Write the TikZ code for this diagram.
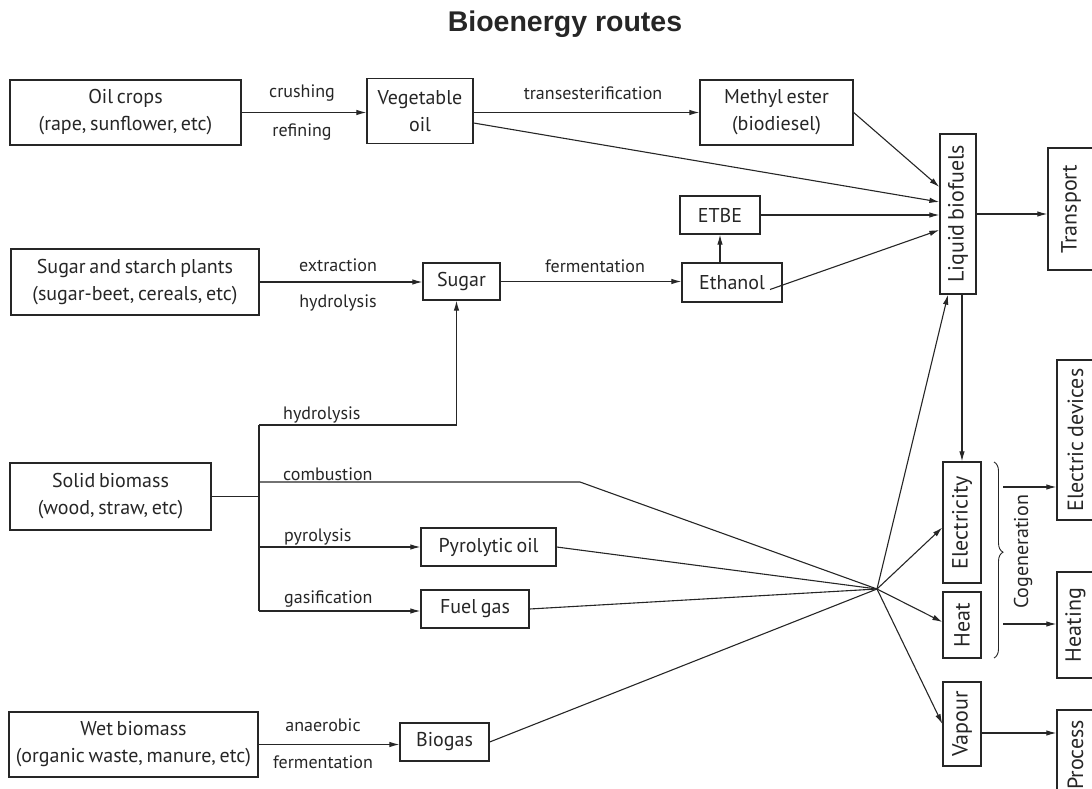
\documentclass[tikz,border=0pt]{standalone}
\usepackage{fontspec}
\usepackage{graphicx}
\setmainfont{PT Sans}[WordSpace=0.7]
\newfontfamily\titlefont{Liberation Sans}
\usetikzlibrary{arrows.meta,calc,decorations.pathreplacing}
\definecolor{ink}{HTML}{262626}
\newcommand{\vtext}[1]{\rotatebox{90}{\fontsize{22}{24}\selectfont #1}}
\begin{document}
\begin{tikzpicture}[x=1pt,y=-1pt,
  box/.style={draw=ink,line width=1.3pt,inner sep=0pt,align=center,text=ink,
    font=\fontsize{20}{27}\selectfont},
  lbl/.style={text=ink,inner sep=0pt,font=\fontsize{18}{20}\selectfont},
  wire/.style={draw=ink,line width=1.1pt},
  arr/.style={wire,-{Latex[length=10pt,width=5.5pt]}}]
\useasboundingbox (0,0) rectangle (1092,789);
\clip (0,0) rectangle (1092,789);

% title
\node[text=ink,font=\titlefont\bfseries\fontsize{28.5}{30}\selectfont] (title) at (565,24) {Bioenergy routes};

% source boxes
\node[box,minimum width=231pt,minimum height=65pt] (oil) at (125.5,112.5) {Oil crops\\(rape, sunflower, etc)};
\node[box,minimum width=248pt,minimum height=66pt] (ss) at (135,282) {Sugar and starch plants\\(sugar-beet, cereals, etc)};
\node[box,minimum width=201pt,minimum height=67pt] (sb) at (110.5,496.5) {Solid biomass\\(wood, straw, etc)};
\node[box,minimum width=249pt,minimum height=65pt] (wet) at (133.5,744.5) {Wet biomass\\(organic waste, manure, etc)};

% intermediate products
\node[box,minimum width=106pt,minimum height=65pt] (veg) at (420,111) {Vegetable\\oil};
\node[box,minimum width=153pt,minimum height=65pt] (me) at (776.5,112.5) {Methyl ester\\(biodiesel)};
\node[box,minimum width=80pt,minimum height=38pt] (etbe) at (720,215) {ETBE};
\node[box,minimum width=100pt,minimum height=39pt] (eth) at (732,282.5) {Ethanol};
\node[box,minimum width=77pt,minimum height=37pt] (sugar) at (461.5,281.5) {Sugar};
\node[box,minimum width=135pt,minimum height=38pt] (pyro) at (488.5,547) {Pyrolytic oil};
\node[box,minimum width=108pt,minimum height=38pt] (fuel) at (475,609) {Fuel gas};
\node[box,minimum width=89pt,minimum height=38pt] (biogas) at (444.5,742) {Biogas};

% energy carriers
\node[box,minimum width=36pt,minimum height=160pt] (lb) at (958,214) {\vtext{Liquid biofuels}};
\node[box,minimum width=38pt,minimum height=121pt] (el) at (962,522.5) {\vtext{Electricity}};
\node[box,minimum width=38pt,minimum height=66pt] (heat) at (962,625) {\vtext{Heat}};
\node[box,minimum width=38pt,minimum height=84pt] (vap) at (962,724) {\vtext{Vapour}};

% end uses
\node[box,minimum width=46pt,minimum height=122pt] (tr) at (1071,209) {\vtext{Transport}};
\node[box,minimum width=37pt,minimum height=160pt] (ed) at (1075.5,440) {\vtext{Electric devices}};
\node[box,minimum width=37pt,minimum height=106pt] (hting) at (1075.5,625) {\vtext{Heating}};
\node[box,minimum width=37pt,minimum height=90pt] (proc) at (1075.5,755) {\vtext{Process}};

% junctions
\coordinate (conv) at (877,589);
\coordinate (jtop) at (259,425);
\coordinate (jcomb) at (259,482);
\coordinate (jbot) at (259,611);
\coordinate (bend) at (580,482);
\coordinate (bEl) at (1003,487);
\coordinate (bHt) at (1003,624);
\coordinate (vOut) at (981,733);

% oil route
\draw[arr] (oil.east) -- (oil.east -| veg.west);
\node[lbl] (l1) at (302,93) {crushing};
\node[lbl] (l2) at (302,132) {refining};
\draw[arr] (veg.east |- oil.east) -- (oil.east -| me.west);
\node[lbl] (l3) at (593,93) {transesterification};
\draw[arr] ($(veg.east)+(0,12)$) -- ($(lb.west)+(0,-12)$);
\draw[arr] (me.east) -- ($(lb.west)+(0,-27)$);

% sugar route
\draw[arr] (ss.east) -- (ss.east -| sugar.west);
\node[lbl] (l4) at (338,265) {extraction};
\node[lbl] (l5) at (338,303) {hydrolysis};
\draw[arr] (sugar.east) -- (sugar.east -| eth.west);
\node[lbl] (l6) at (595,266) {fermentation};
\draw[arr] (etbe.south |- eth.north) -- (etbe.south);
\draw[arr] (etbe.east) -- (etbe.east -| lb.west);
\draw[arr] ($(eth.center)+(38,7)$) -- ($(lb.west)+(0,16)$);

% solid biomass routes
\draw[wire] (sb.east) -- (sb.east -| jtop);
\draw[wire] (jtop) -- (jbot);
\draw[arr] (jtop) -| ($(sugar.south)+(-5,0)$);
\node[lbl,anchor=west] (l7) at (283,415) {hydrolysis};
\draw[wire] (jcomb) -- (bend) -- (conv);
\node[lbl,anchor=west] (l8) at (283,474) {combustion};
\draw[arr] (jtop |- pyro.west) -- (pyro.west);
\node[lbl,anchor=west] (l9) at (284,537) {pyrolysis};
\draw[arr] (jbot) -- (jbot -| fuel.west);
\node[lbl,anchor=west] (l10) at (284,599) {gasification};
\draw[wire] (pyro.east) -- (conv);
\draw[wire] (fuel.east) -- (conv);

% wet biomass route
\draw[arr] (wet.east) -- (wet.east -| biogas.west);
\node[lbl] (l11) at (323,725) {anaerobic};
\node[lbl] (l12) at (323,762) {fermentation};
\draw[wire] (biogas.east) -- (conv);

% conversion fan
\draw[arr] (conv) -- ($(lb.south)+(-10,0)$);
\draw[arr] (conv) -- ($(el.west)+(0,5)$);
\draw[arr] (conv) -- ($(heat.west)+(0,-3)$);
\draw[arr] (conv) -- (vap.west);

% end uses
\draw[arr] (lb.east) -- (lb.east -| tr.west);
\draw[arr] (el.north |- lb.south) -- (el.north);
\draw[wire,line width=0.9pt,decorate,decoration={brace,amplitude=9pt,aspect=0.46}] (994,462) -- (994,658);
\node[lbl,rotate=90,font=\fontsize{20}{22}\selectfont] (cogen) at (1023,552) {Cogeneration};
\draw[arr] (bEl) -- (bEl -| ed.west);
\draw[arr] (bHt) -- (bHt -| hting.west);
\draw[arr] (vOut) -- (vOut -| proc.west);
\end{tikzpicture}
\end{document}
